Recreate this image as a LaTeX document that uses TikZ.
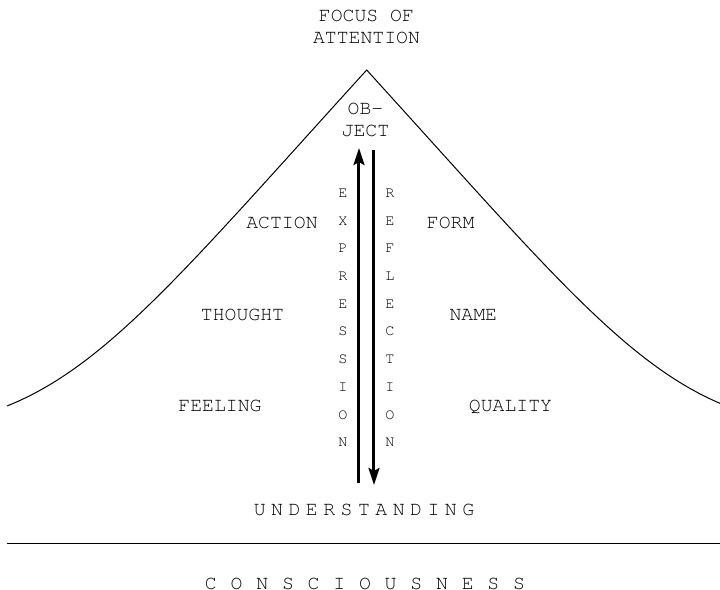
\documentclass[tikz,border=0pt]{standalone}
\usepackage{fontspec}
\newcommand\diagfont{\fontencoding{T1}\fontfamily{pcr}\selectfont}
\usetikzlibrary{arrows.meta}

\tikzset{
  word/.style={font=\diagfont\fontsize{9.9}{11}\selectfont, inner sep=0pt},
  column word/.style={font=\diagfont\fontsize{7.6}{13.85}\selectfont, align=center, inner sep=0pt},
  flow arrow/.style={line width=1.5pt, -{Stealth[length=8.5pt, width=5.5pt, inset=1.5pt]}},
}

\begin{document}
\begin{tikzpicture}[x=0.5pt, y=-0.5pt]
\useasboundingbox (0,0) rectangle (720,590);
\clip (0,0) rectangle (720,590);

% the peak of attention
\coordinate (apex) at (366.7,70);
\coordinate (slope left) at (7,406);
\coordinate (slope right) at (726.4,406);
\draw[line width=0.5pt] (slope left) .. controls (107,366) and (186.7,268) .. (apex)
  .. controls (546.7,268) and (626.4,366) .. (slope right);

% ground line
\coordinate (ground left) at (7,543.3);
\coordinate (ground right) at (720,543.3);
\draw[line width=0.75pt] (ground left) -- (ground right);

% the two arrows
\coordinate (expr bottom) at (359,483);
\coordinate (expr top) at (359,148);
\coordinate (refl top) at (374,150);
\coordinate (refl bottom) at (374,485);
\draw[flow arrow] (expr bottom) -- (expr top);
\draw[flow arrow] (refl top) -- (refl bottom);

\node[word, align=center] (focus) at (366.5,26.5) {FOCUS OF\\ATTENTION};
\node[word, align=center] (object) at (365.5,120) {OB-\\JECT};

\node[column word] (expression) at (343,318) {E\\X\\P\\R\\E\\S\\S\\I\\O\\N};
\node[column word] (reflection) at (390,318) {R\\E\\F\\L\\E\\C\\T\\I\\O\\N};

\node[word, anchor=base] (action) at (282,228) {ACTION};
\node[word, anchor=base] (form) at (450.7,228) {FORM};
\node[word, anchor=base] (thought) at (242.5,320) {THOUGHT};
\node[word, anchor=base] (name) at (473.3,320) {NAME};
\node[word, anchor=base] (feeling) at (220,411) {FEELING};
\node[word, anchor=base] (quality) at (510.5,411) {QUALITY};

% letter-spaced words
\node[word, anchor=base] (understanding) at (364,515)
  {U\kern2.75pt N\kern2.75pt D\kern2.75pt E\kern2.75pt R\kern2.75pt S\kern2.75pt T\kern2.75pt A\kern2.75pt N\kern2.75pt D\kern2.75pt I\kern2.75pt N\kern2.75pt G};
\node[word, anchor=base] (consciousness) at (365,589)
  {C\kern6.9pt O\kern6.9pt N\kern6.9pt S\kern6.9pt C\kern6.9pt I\kern6.9pt O\kern6.9pt U\kern6.9pt S\kern6.9pt N\kern6.9pt E\kern6.9pt S\kern6.9pt S};
\end{tikzpicture}
\end{document}
